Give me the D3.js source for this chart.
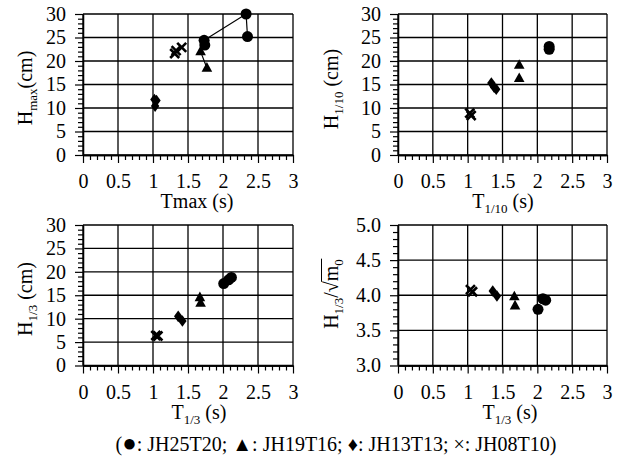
<!DOCTYPE html>
<html><head><meta charset="utf-8">
<script src="https://cdn.jsdelivr.net/npm/d3@7"></script>
</head><body style="margin:0;background:#fff"><svg id="c" width="626" height="465"></svg>
<script>
// ---------------- data ----------------
const seriesNames = ["JH25T20","JH19T16","JH13T13","JH08T10"];
const seriesSymbols = ["circle","triangle","diamond","cross"];
const legendSymbols = ["●","▲","♦","×"];
const xTickValues = [0,0.5,1,1.5,2,2.5,3];
const xTickLabels = ["0","0.5","1","1.5","2","2.5","3"];
const hTickValues = [0,5,10,15,20,25,30];
const hTickLabels = ["0","5","10","15","20","25","30"];
const rTickValues = [3.0,3.5,4.0,4.5,5.0];
const rTickLabels = ["3.0","3.5","4.0","4.5","5.0"];

// panel 1: Tmax (s) vs Hmax (cm), series order as seriesNames
const tmax = [[1.74,1.73,2.33,2.35],[1.68,1.77],[1.02,1.03,1.05],[1.31,1.33,1.41]];
const hmax = [[23.4,24.4,30.0,25.2],[22.0,18.5],[11.8,10.4,11.6],[21.6,22.2,22.9]];
// panel 2: T1/10 vs H1/10
const t110 = [[2.17,2.17],[1.74,1.74],[1.34,1.38,1.41],[1.03,1.05]];
const h110 = [[23.1,22.5],[19.1,16.3],[15.3,14.4,14.0],[8.9,8.4]];
// panel 3: T1/3 vs H1/3
const t13 = [[2.01,2.08,2.12],[1.67,1.68],[1.36,1.42],[1.04,1.07]];
const h13 = [[17.5,18.3,18.8],[14.5,13.3],[10.5,9.5],[6.4,6.3]];
// panel 4: T1/3 vs H1/3/sqrt(m0)
const h13m0 = [[3.80,3.95,3.93],[3.98,3.85],[4.06,3.99],[4.08,4.05]];

// ---------------- layout ----------------
const FONT = "Liberation Serif";
const svg = d3.select("#c");
const FS = 20;
const panels = [
  {left:83, top:14, w:210, h:141, xs:tmax, ys:hmax, yDom:[0,30], yT:hTickValues, yL:hTickLabels, yMinorStep:1, lines:true,
   xTitle:[["Tmax (s)","n"]], xTitleX:197, yTitle:[["H","n"],["max","s"],["(cm)","n"]], yTitleX:32, yTitleY:88},
  {left:398, top:14, w:209, h:141, xs:t110, ys:h110, yDom:[0,30], yT:hTickValues, yL:hTickLabels, yMinorStep:1, lines:false,
   xTitle:[["T","n"],["1/10","s"],[" (s)","n"]], xTitleX:503, yTitle:[["H","n"],["1/10","s"],[" (cm)","n"]], yTitleX:338, yTitleY:89},
  {left:83, top:225, w:210, h:140.5, xs:t13, ys:h13, yDom:[0,30], yT:hTickValues, yL:hTickLabels, yMinorStep:1, lines:false,
   xTitle:[["T","n"],["1/3","s"],[" (s)","n"]], xTitleX:199, yTitle:[["H","n"],["1/3","s"],[" (cm)","n"]], yTitleX:32, yTitleY:299},
  {left:398, top:225, w:209, h:140.5, xs:t13, ys:h13m0, yDom:[3,5], yT:rTickValues, yL:rTickLabels, yMinorStep:0.1, lines:false,
   xTitle:[["T","n"],["1/3","s"],[" (s)","n"]], xTitleX:510, yTitle:null, yTitleX:338, yTitleY:294}
];

function styleText(sel, size){
  return sel.attr("font-family",FONT).style("font-family",FONT)
            .attr("font-size",size).style("font-size",size+"px").style("fill","#000");
}

function addParts(textSel, parts){
  let sub = false;
  parts.forEach(([t,k])=>{
    const ts = textSel.append("tspan").text(t);
    if(k==="s"){ ts.style("font-size","13px"); if(!sub){ ts.attr("dy",5); sub=true; } }
    else if(sub){ ts.attr("dy",-5); sub=false; }
  });
}

function symbolPath(type){
  if(type==="circle") return d3.symbol(d3.symbolCircle, 95)();
  if(type==="triangle") return "M0,-6L5.3,3.6L-5.3,3.6Z";
  if(type==="diamond") return "M0,-5.8L4.2,0L0,5.8L-4.2,0Z";
  return null;
}

panels.forEach(p=>{
  const g = svg.append("g");
  const x = d3.scaleLinear().domain([0,3]).range([p.left, p.left+p.w]);
  const y = d3.scaleLinear().domain(p.yDom).range([p.top+p.h, p.top]);

  // grid (major lines, incl. frame)
  g.append("g").selectAll("line").data(xTickValues).join("line")
    .attr("x1",d=>x(d)).attr("x2",d=>x(d)).attr("y1",p.top).attr("y2",p.top+p.h)
    .attr("stroke","#000").attr("stroke-width",1.3);
  g.append("g").selectAll("line").data(p.yT).join("line")
    .attr("y1",d=>y(d)).attr("y2",d=>y(d)).attr("x1",p.left).attr("x2",p.left+p.w)
    .attr("stroke","#000").attr("stroke-width",1.3);

  // axes
  const xMinor = d3.range(0, 30.5, 1).map(v=>v/10).filter(v=>Math.abs(v*2-Math.round(v*2))>1e-6);
  const yMinor = d3.range(p.yDom[0], p.yDom[1]+p.yMinorStep/2, p.yMinorStep).map(v=>+v.toFixed(3))
                   .filter(v=>!p.yT.some(t=>Math.abs(t-v)<1e-6));
  const axes = [];
  axes.push(g.append("g").attr("transform",`translate(0,${p.top+p.h})`)
    .call(d3.axisBottom(x).tickValues(xTickValues).tickFormat((d,i)=>xTickLabels[i]).tickSizeInner(8).tickSizeOuter(0).tickPadding(11)));
  axes.push(g.append("g").attr("transform",`translate(0,${p.top+p.h})`)
    .call(d3.axisBottom(x).tickValues(xMinor).tickFormat("").tickSizeInner(5).tickSizeOuter(0)));
  axes.push(g.append("g").attr("transform",`translate(${p.left},0)`)
    .call(d3.axisLeft(y).tickValues(p.yT).tickFormat((d,i)=>p.yL[i]).tickSizeInner(8).tickSizeOuter(0).tickPadding(9)));
  axes.push(g.append("g").attr("transform",`translate(${p.left},0)`)
    .call(d3.axisLeft(y).tickValues(yMinor).tickFormat("").tickSizeInner(5).tickSizeOuter(0)));
  axes.forEach(a=>a.attr("font-family",FONT).attr("font-size",FS));
  g.selectAll(".domain").attr("stroke","#000").attr("stroke-width",1.3);
  g.selectAll(".tick line").attr("stroke","#000").attr("stroke-width",1.2);
  styleText(g.selectAll(".tick text"), FS);

  // connecting lines (panel 1)
  if(p.lines){
    p.xs.forEach((xs,si)=>{
      const pts = xs.map((v,i)=>[x(v), y(p.ys[si][i])]);
      g.append("path").attr("d", d3.line()(pts)).attr("fill","none").attr("stroke","#000").attr("stroke-width",1.2);
    });
  }

  // markers
  p.xs.forEach((xs,si)=>{
    const type = seriesSymbols[si];
    const pts = xs.map((v,i)=>({x:v, y:p.ys[si][i]}));
    const sel = g.append("g").selectAll("g").data(pts).join("g")
      .attr("transform",d=>`translate(${x(d.x)},${y(d.y)})`);
    if(type==="cross"){
      sel.append("path").attr("d","M-4.5,-4.5L4.5,4.5M-4.5,4.5L4.5,-4.5").attr("stroke","#000").attr("stroke-width",2.6).attr("fill","none");
    } else {
      sel.append("path").attr("d",symbolPath(type)).attr("fill","#000");
    }
  });

  // x title
  const xt = styleText(g.append("text").attr("x",p.xTitleX).attr("y",p.top+p.h+53).attr("text-anchor","middle"), FS);
  addParts(xt, p.xTitle);

  // y title
  const yg = g.append("g").attr("transform",`translate(${p.yTitleX},${p.yTitleY}) rotate(-90)`);
  const yt = styleText(yg.append("text").attr("text-anchor","middle"), FS);
  if(p.yTitle){
    addParts(yt, p.yTitle);
  } else {
    addParts(yt, [["H","n"],["1/3","s"],["/√m","n"],["0","s"]]);
    const node = yt.node();
    const n = node.getNumberOfChars();
    const sq = node.getExtentOfChar(5);
    const last = node.getExtentOfChar(n-1);
    yg.append("line").attr("x1",sq.x+sq.width-0.6).attr("x2",last.x+last.width+0.5)
      .attr("y1",sq.y+1.5).attr("y2",sq.y+1.5).attr("stroke","#000").attr("stroke-width",1);
  }
});

// legend
const lg = styleText(svg.append("text").attr("x",336).attr("y",451).attr("text-anchor","middle"), FS);
lg.append("tspan").text("(");
seriesNames.forEach((s,i)=>{
  const sym = lg.append("tspan").text(legendSymbols[i]);
  if(i===0) sym.style("font-size","24px");
  lg.append("tspan").text(": " + s + (i<seriesNames.length-1 ? "; " : ")"));
});
</script>
</body></html>
